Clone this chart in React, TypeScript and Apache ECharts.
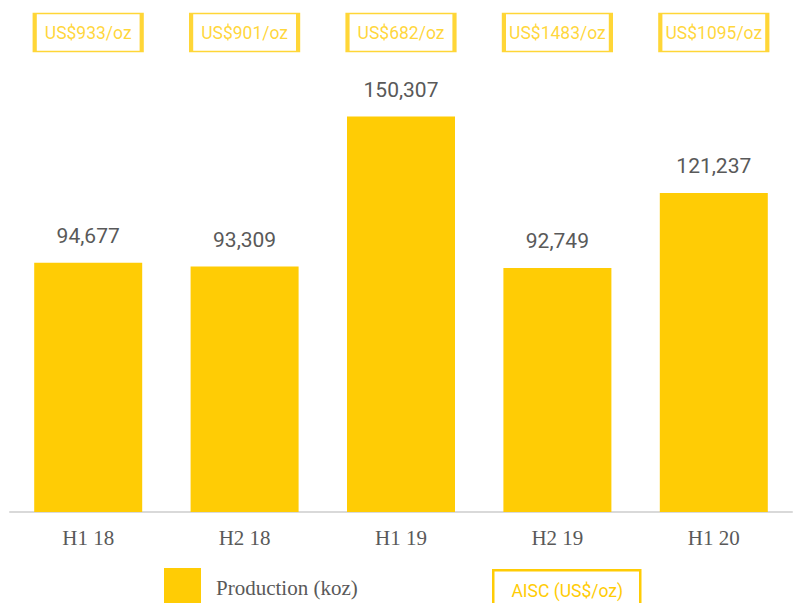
import React, { useEffect, useRef } from "react";
import * as echarts from "echarts";

const categories = ["H1 18", "H2 18", "H1 19", "H2 19", "H1 20"];
const production = [94677, 93309, 150307, 92749, 121237];
const aiscLabels = ["US$933/oz", "US$901/oz", "US$682/oz", "US$1483/oz", "US$1095/oz"];
const productionName = "Production (koz)";
const aiscName = "AISC (US$/oz)";

const YELLOW = "#FFCC05";
const GREY = "#595959";

export default function App() {
  const ref = useRef<HTMLDivElement>(null);
  useEffect(() => {
    if (!ref.current) return;
    const chart = echarts.init(ref.current, null, { renderer: "svg" });
    chart.setOption({
      animation: false,
      backgroundColor: "#ffffff",
      grid: { left: 10, right: 4, top: 12, bottom: 91, containLabel: false },
      legend: {
        data: [productionName],
        left: 164,
        top: 568,
        padding: 0,
        itemWidth: 37,
        itemHeight: 40,
        icon: "rect",
        textStyle: {
          fontFamily: "Liberation Serif",
          fontSize: 21,
          color: GREY,
          padding: [0, 0, 0, 10],
        },
      },
      xAxis: {
        type: "category",
        data: categories,
        axisLine: { show: true, lineStyle: { color: "#d9d9d9", width: 2 } },
        axisTick: { show: false },
        axisLabel: {
          fontFamily: "Liberation Serif",
          fontSize: 21,
          color: GREY,
          margin: 15,
        },
      },
      yAxis: [
        { type: "value", min: 0, max: 190000, show: false, splitLine: { show: false } },
        { type: "value", min: 0, max: 1, show: false, splitLine: { show: false } },
      ],
      series: [
        {
          name: productionName,
          type: "bar",
          data: production,
          barWidth: 108,
          itemStyle: { color: YELLOW },
          label: {
            show: true,
            position: "top",
            distance: 16,
            fontFamily: "Roboto",
            fontSize: 21,
            color: GREY,
            formatter: (p: any) => Number(p.value).toLocaleString("en-US"),
          },
        },
        {
          name: aiscName,
          type: "scatter",
          yAxisIndex: 1,
          clip: false,
          data: aiscLabels.map((t) => ({ value: 0.959, label: { formatter: t } })),
          symbol: "rect",
          symbolSize: [107, 38],
          itemStyle: { color: "#ffffff", borderColor: YELLOW, borderWidth: 2.5 },
          label: {
            show: true,
            position: "inside",
            fontFamily: "Roboto",
            fontSize: 17.5,
            color: YELLOW,
          },
          emphasis: { disabled: true },
        },
      ],
      graphic: [
        {
          type: "group",
          left: 492,
          top: 569,
          children: [
            {
              type: "rect",
              shape: { x: 0, y: 0, width: 147, height: 44 },
              style: { fill: "#ffffff", stroke: YELLOW, lineWidth: 2.5 },
            },
            {
              type: "text",
              x: 74,
              y: 21,
              style: {
                text: aiscName,
                fill: YELLOW,
                fontFamily: "Roboto",
                fontSize: 17.5,
                align: "center",
                verticalAlign: "middle",
              },
            },
          ],
        },
      ],
    });
    return () => chart.dispose();
  }, []);
  return <div ref={ref} style={{ width: 796, height: 603, position: "absolute", left: 0, top: 0 }} />;
}
